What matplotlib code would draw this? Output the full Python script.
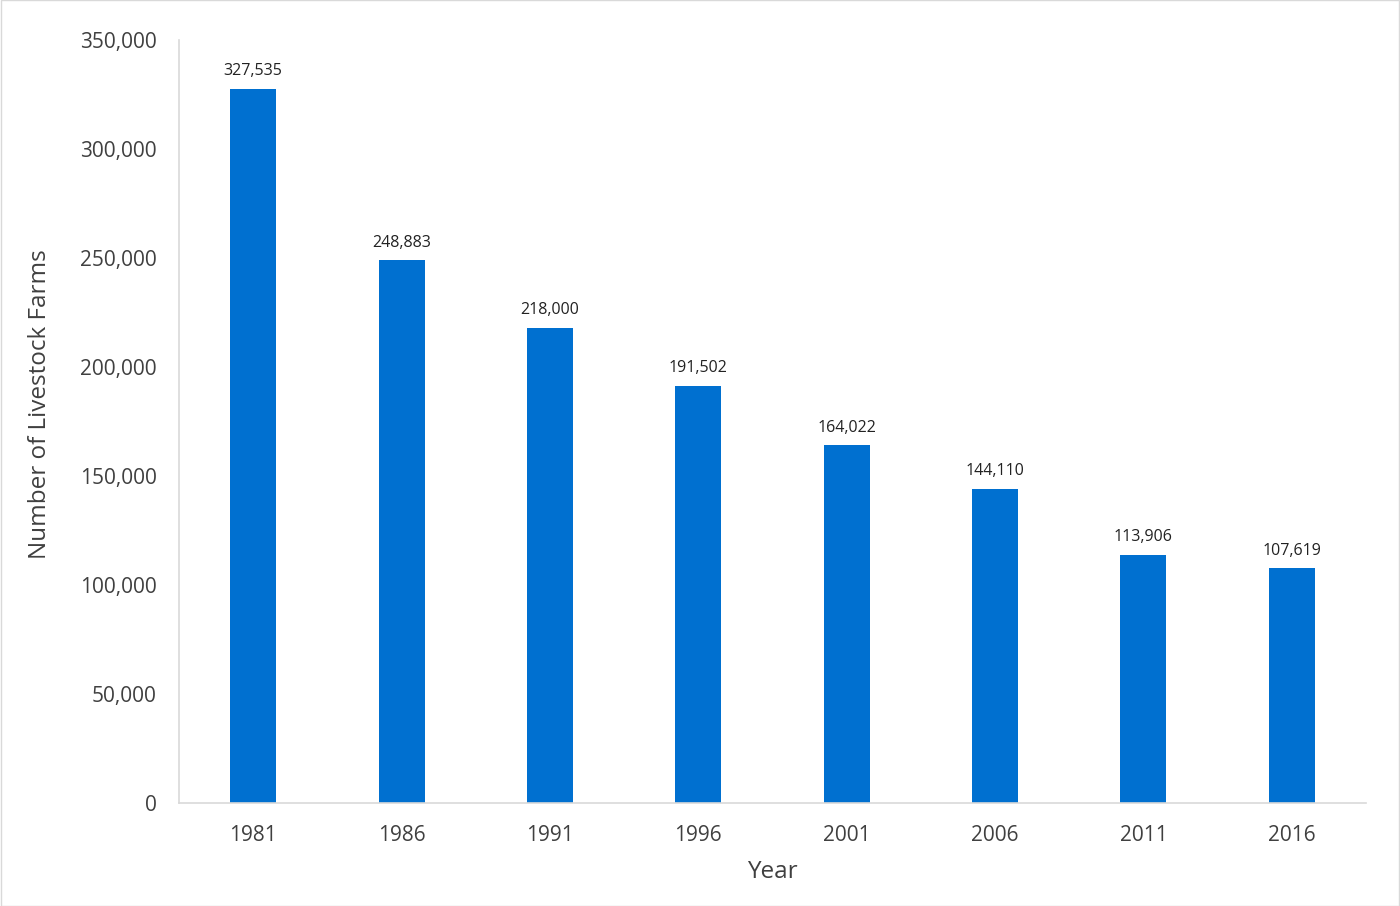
import numpy as np
import matplotlib.pyplot as plt

plt.rcParams['font.family'] = ['Open Sans', 'DejaVu Sans']

years = ['1981', '1986', '1991', '1996', '2001', '2006', '2011', '2016']
farms = [327535, 248883, 218000, 191502, 164022, 144110, 113906, 107619]

fig = plt.figure(figsize=(14, 9.06), dpi=100)
ax = fig.add_axes([179/1400, 1 - 803/906, (1366 - 179)/1400, (803 - 40)/906])

x = np.arange(len(years))
bars = ax.bar(x, farms, width=0.31, color='#0070D0', zorder=2)
for xi, v in zip(x, farms):
    ax.text(xi, v + 4500, f'{v:,}', ha='center', va='bottom', fontsize=11.5, color='#222222')

ax.set_xlim(-0.5, len(years) - 0.5)
ax.set_ylim(0, 350000)
ax.set_yticks(np.arange(0, 350001, 50000))
ax.set_yticklabels([f'{t:,}' for t in range(0, 350001, 50000)])
ax.set_xticks(x)
ax.set_xticklabels(years)
ax.tick_params(axis='both', length=0, labelsize=15, colors='#404040')
ax.tick_params(axis='y', pad=16)
ax.tick_params(axis='x', pad=16)

for s in ['top', 'right']:
    ax.spines[s].set_visible(False)
ax.spines['left'].set_color('#D9D9D9')
ax.spines['bottom'].set_color('#D9D9D9')
ax.spines['left'].set_linewidth(1.2)
ax.spines['bottom'].set_linewidth(1.2)

ax.set_xlabel('Year', fontsize=17.5, color='#404040', va='center')
ax.xaxis.set_label_coords(0.5, -0.0904)
ax.set_ylabel('Number of Livestock Farms', fontsize=17.5, color='#404040', va='center')
ax.yaxis.set_label_coords(-0.117, 0.523)

# thin border around the figure
fig.patches.append(plt.Rectangle((0.0005, 0.0005), 0.999, 0.999, transform=fig.transFigure,
                                 fill=False, edgecolor='#D9D9D9', linewidth=1))

fig.savefig('out.png', dpi=100)
